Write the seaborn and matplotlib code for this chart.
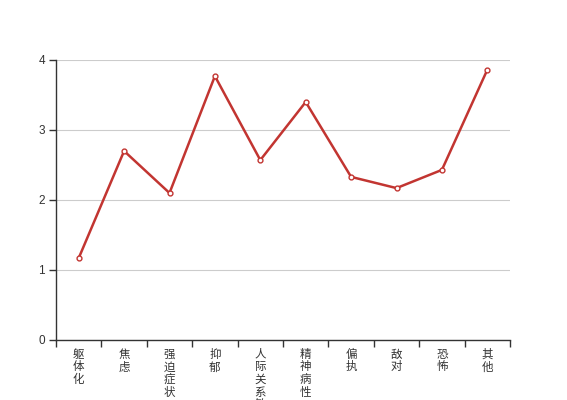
import matplotlib
matplotlib.use('Agg')
import matplotlib.pyplot as plt
import seaborn as sns
import pandas as pd
from matplotlib.ticker import FixedLocator

categories = ['躯体化', '焦虑', '强迫症状', '抑郁', '人际关系敏感', '精神病性', '偏执', '敌对', '恐怖', '其他']
scores = [1.17, 2.70, 2.10, 3.77, 2.57, 3.40, 2.33, 2.17, 2.43, 3.86]
y_ticks = [0, 1, 2, 3, 4]

sns.set_style('white')
plt.rcParams['font.family'] = ['Noto Sans CJK SC', 'DejaVu Sans']

df = pd.DataFrame({'cat': categories, 'score': scores})

fig = plt.figure(figsize=(5.67, 4.0), dpi=100)
ax = fig.add_axes([56 / 567, 1 - 340 / 400, (510 - 56) / 567, 280 / 400])

sns.lineplot(data=df, x='cat', y='score', ax=ax, color='#c23531', linewidth=1.8,
             marker='o', markersize=3.5, markerfacecolor='white',
             markeredgecolor='#c23531', markeredgewidth=1, sort=False)

ax.set_xlim(-0.5, len(categories) - 0.5)
ax.set_ylim(0, 4)
ax.set_yticks(y_ticks)
ax.yaxis.grid(True, color='#cccccc', linewidth=0.8)
ax.set_axisbelow(True)

# ticks on category boundaries, labels at category centres
ax.xaxis.set_major_locator(FixedLocator([i - 0.5 for i in range(len(categories) + 1)]))
ax.set_xticklabels([])
ax.tick_params(axis='x', which='major', length=5, width=1, color='#333333', direction='out', bottom=True)
ax.tick_params(axis='y', length=5, width=1, color='#333333', direction='out', left=True,
               labelsize=8.5, labelcolor='#333333', pad=3)
for lab in ax.get_yticklabels():
    lab.set_family(['Liberation Sans', 'DejaVu Sans'])

for i, c in enumerate(categories):
    ax.text(i, -0.11, '\n'.join(c), ha='center', va='top', fontsize=8.3,
            color='#333333', linespacing=0.97, transform=ax.transData, clip_on=False)

for side in ['top', 'right']:
    ax.spines[side].set_visible(False)
for side in ['left', 'bottom']:
    ax.spines[side].set_color('#333333')
    ax.spines[side].set_linewidth(1)

ax.set_xlabel('')
ax.set_ylabel('')

fig.savefig('out.png', dpi=100)
